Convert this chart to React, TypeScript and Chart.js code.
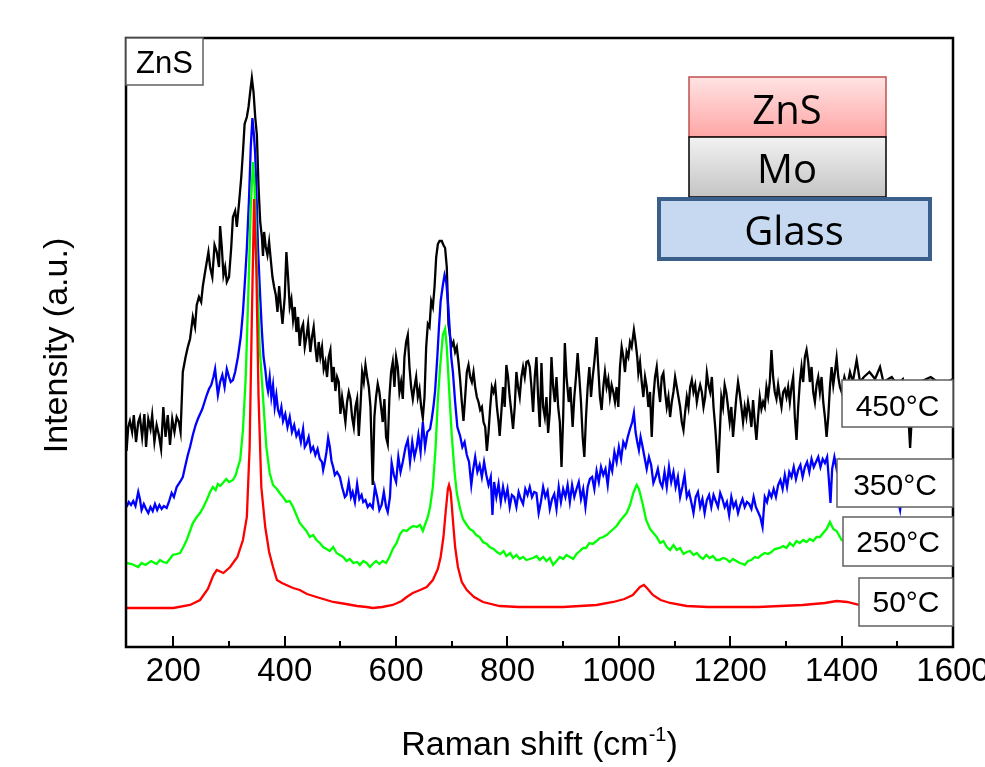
import { useEffect, useRef } from 'react';
import { Chart, registerables } from 'chart.js';

Chart.register(...registerables);

// ---------- data (Raman shift in cm-1, intensity in arbitrary units) ----------
const X_50 = [115,150,200,230,248,262,272,278,290,302,315,325,332,337,341,345,349,353,358,365,372,379,386,395,403,415,427,440,457,475,487,510,530,547,558,575,594,610,619,630,643,655,666,675,680,685,689,693,695,698,702,706,711,718,727,740,756,786,820,900,960,990,1010,1025,1038,1045,1052,1061,1075,1092,1122,1160,1250,1330,1370,1391,1410,1433,1470,1600];
const Y_50 = [39,39,39,42,47,58,72,77,74,80,90,107,130,200,330,448,380,250,160,120,95,80,67,64,62,59,57,53,50,47,45,43,41,40,39,40,42,46,50,54,57,60,67,78,90,110,135,158,162,155,127,100,80,65,57,50,45,41,40,40,42,45,48,52,60,62,58,52,47,44,41,40,40,42,44,46,45,42,40,40];

const X_250 = [116,125,137,143,150,160,170,176,182,188,195,199,206,212,218,224,230,235,242,248,254,260,266,271,276,280,284,289,295,300,307,312,316,320,325,330,335,339,343,346,350,355,361,367,373,379,386,391,397,403,409,415,421,427,433,439,445,451,457,463,469,475,481,487,493,499,505,511,517,523,530,535,541,547,553,558,564,570,576,582,588,594,601,607,613,619,625,631,637,643,648,653,657,661,666,671,675,679,684,688,691,695,700,705,709,715,720,727,732,738,744,750,756,763,768,775,781,787,793,798,805,810,816,822,828,834,840,846,852,858,864,870,876,882,888,894,900,906,912,918,924,930,936,941,947,953,960,966,972,978,984,990,996,1002,1008,1014,1020,1026,1032,1036,1042,1049,1056,1062,1068,1074,1080,1086,1092,1098,1104,1110,1116,1122,1128,1134,1140,1146,1151,1157,1163,1169,1175,1181,1187,1193,1199,1205,1211,1217,1223,1226,1232,1238,1244,1250,1256,1262,1268,1274,1280,1289,1295,1301,1307,1313,1319,1325,1331,1337,1343,1349,1355,1361,1367,1373,1379,1385,1391,1397,1400,1420,1450,1480,1510,1540,1570,1600];
const Y_250 = [84,83,80,84,82,86,83,87,85,84,89,92,93,94,100,107,116,124,130,134,140,147,155,160,157,163,161,164,168,165,167,172,180,187,217,270,360,440,485,460,380,300,250,200,174,162,158,154,150,145,146,140,132,124,120,116,110,112,107,104,100,98,96,100,94,92,90,86,88,84,85,82,86,84,80,83,86,83,86,84,90,98,104,113,117,116,119,121,120,122,116,124,130,140,160,200,248,280,312,318,300,260,211,175,154,138,128,122,118,116,112,110,105,103,100,98,95,93,96,91,94,89,92,88,90,87,88,89,91,87,90,86,89,82,86,90,88,92,90,88,93,96,99,99,104,103,106,109,110,112,115,118,121,126,130,134,142,154,162,158,145,127,118,114,110,104,106,100,97,102,97,99,93,95,96,92,94,90,88,92,89,91,87,87,89,88,85,88,86,84,83,82,86,87,90,89,92,94,93,95,98,99,101,99,104,101,106,104,107,105,108,106,110,110,114,118,125,118,116,110,107,104,100,96,94,92,90,87];

const X_350 = [116,120,124,128,132,137,140,143,147,151,155,159,163,167,171,175,179,183,188,192,197,201,206,212,217,221,226,230,235,240,244,248,252,256,260,264,268,272,275,278,280,284,288,292,296,300,303,307,311,316,321,325,329,332,336,339,342,345,347,350,352,356,359,362,365,368,370,373,376,379,382,385,388,391,394,397,401,405,409,413,417,421,425,429,433,436,439,443,447,451,455,459,463,467,469,472,475,478,481,484,487,490,494,499,503,508,511,515,519,522,526,530,534,538,541,545,549,553,558,562,566,570,574,578,582,585,589,592,596,600,604,608,612,617,621,625,629,633,637,640,644,648,652,656,661,664,667,670,674,677,680,684,687,690,693,696,699,702,706,710,715,719,723,727,731,735,738,742,746,750,754,758,762,766,770,773,776,780,784,788,792,796,800,804,808,812,816,820,824,828,832,836,840,844,848,852,856,860,864,868,872,876,880,884,888,892,896,900,904,908,912,916,920,924,928,932,936,940,944,948,952,956,960,964,968,972,976,980,984,988,992,996,1000,1004,1008,1012,1016,1020,1024,1027,1030,1033,1036,1039,1042,1046,1050,1054,1058,1062,1066,1070,1074,1078,1082,1086,1090,1094,1098,1102,1106,1110,1114,1118,1122,1126,1130,1134,1138,1142,1146,1150,1154,1158,1162,1166,1170,1174,1178,1182,1186,1190,1194,1198,1202,1206,1210,1214,1218,1222,1226,1230,1234,1238,1242,1246,1250,1254,1258,1262,1266,1270,1274,1278,1282,1286,1290,1294,1298,1302,1306,1310,1314,1318,1322,1326,1330,1334,1338,1342,1346,1350,1354,1358,1362,1366,1370,1374,1377,1380,1383,1387,1391,1395,1400,1430,1460,1490,1500,1505,1510,1540,1570,1600];
const Y_350 = [140,145,142,146,141,155,148,137,143,138,134,140,136,143,137,142,138,141,139,145,154,150,160,165,170,180,192,200,212,222,228,233,238,245,252,258,262,270,278,262,252,265,272,260,278,270,265,267,275,290,310,335,370,399,450,500,529,510,493,440,399,350,316,290,278,262,256,270,250,262,240,252,237,232,240,226,233,220,230,215,222,211,216,205,218,200,203,210,196,200,192,198,188,185,177,185,195,209,200,186,180,172,175,170,160,150,152,165,150,155,145,163,148,152,145,147,140,143,139,160,150,137,142,155,140,135,150,184,172,165,190,175,185,200,207,185,205,190,200,212,195,225,200,215,218,228,240,256,290,320,346,362,372,365,346,320,290,275,245,220,211,200,205,192,185,162,176,190,175,182,170,185,172,162,170,132,165,150,163,145,160,148,158,140,152,150,140,155,148,143,158,152,160,150,155,154,134,145,160,150,156,138,148,153,138,160,145,158,150,162,145,162,150,158,165,148,158,140,160,168,170,158,176,165,180,172,178,162,184,176,195,185,200,188,205,200,210,218,225,234,215,205,197,210,202,190,178,190,182,164,170,178,165,160,175,160,180,165,175,160,170,150,160,172,150,155,145,134,150,155,140,148,134,147,152,140,152,146,140,154,148,140,145,132,150,140,145,134,142,148,140,145,143,138,150,140,135,130,120,150,145,155,150,158,150,162,167,158,172,160,175,170,180,168,177,182,170,180,185,175,188,180,185,190,180,188,184,190,168,144,178,190,178,185,170,168,165,160,150,137,160,158,160,160];

const X_450 = [116,119,122,126,129,133,137,140,144,148,151,155,159,162,166,170,174,178,182,186,190,194,198,202,206,210,213,217,222,226,230,235,239,242,246,250,253,257,260,263,266,270,274,278,282,284,287,290,293,296,300,304,307,311,314,318,322,325,328,332,335,338,341,344,347,350,353,356,359,361,363,366,369,372,375,378,381,384,387,390,393,396,400,403,406,409,412,415,418,421,424,427,430,433,436,439,442,446,449,452,455,458,461,464,467,470,473,476,479,482,485,488,491,494,497,500,503,506,509,512,515,518,521,524,527,530,533,536,539,542,545,548,551,554,558,561,564,567,570,573,576,579,582,585,588,591,594,597,600,603,606,609,612,615,618,621,624,627,630,633,636,639,642,645,648,651,654,657,660,663,666,669,672,675,678,682,685,688,691,694,697,700,703,706,709,712,715,718,721,724,727,730,733,736,739,742,745,748,751,754,757,760,763,766,769,772,775,778,781,784,786,789,792,795,798,801,804,807,810,813,816,819,822,825,828,831,834,837,840,843,846,849,852,855,858,861,864,867,870,873,876,879,882,885,888,891,894,897,900,903,906,910,913,917,920,923,926,929,932,935,938,941,944,947,950,953,956,960,963,966,969,972,975,978,981,984,987,990,993,996,999,1002,1005,1008,1011,1014,1017,1020,1023,1027,1030,1033,1035,1038,1041,1044,1047,1050,1053,1056,1059,1062,1065,1068,1071,1074,1077,1080,1083,1086,1089,1092,1095,1098,1101,1104,1107,1110,1113,1116,1119,1122,1125,1128,1131,1134,1137,1140,1143,1146,1149,1152,1155,1158,1161,1164,1167,1170,1173,1176,1178,1181,1184,1187,1190,1193,1196,1199,1202,1205,1208,1211,1214,1217,1220,1223,1226,1229,1232,1235,1238,1241,1244,1247,1250,1253,1256,1259,1262,1265,1268,1271,1274,1277,1280,1283,1286,1289,1292,1295,1298,1301,1304,1307,1310,1313,1316,1319,1322,1325,1328,1331,1334,1337,1340,1343,1346,1349,1352,1355,1358,1361,1364,1367,1370,1373,1376,1379,1382,1385,1388,1391,1394,1397,1400,1405,1410,1415,1420,1427,1433,1440,1450,1460,1469,1475,1490,1500,1510,1518,1523,1528,1540,1560,1580,1600];
const Y_450 = [196,220,226,215,232,205,225,230,210,233,200,228,218,232,205,222,212,198,240,210,232,202,228,215,230,225,215,275,290,300,308,330,320,342,350,345,361,375,385,395,380,370,402,395,380,421,400,372,380,365,370,400,430,436,420,444,470,495,523,530,540,555,569,555,530,512,460,425,410,391,415,400,392,405,387,370,360,352,335,361,340,323,350,395,370,340,348,327,340,315,330,301,318,323,300,310,323,295,310,320,300,285,305,290,300,278,285,270,290,297,265,280,256,270,265,233,250,238,225,245,255,248,230,220,240,248,211,240,275,265,282,270,260,240,162,230,250,263,255,240,225,248,210,203,250,275,285,260,290,280,255,265,248,290,305,312,280,260,248,260,270,250,258,240,229,250,300,323,320,346,340,360,390,403,406,406,402,399,380,323,310,301,305,295,300,285,267,245,226,250,275,282,270,265,275,260,250,245,237,240,225,220,196,215,240,260,255,262,240,225,211,235,260,240,282,270,250,235,218,240,275,260,250,270,280,270,285,286,280,260,235,270,290,250,220,284,240,230,250,214,235,290,260,245,270,240,225,180,230,304,270,245,260,220,250,270,294,270,245,210,190,230,260,280,250,270,285,310,280,250,237,260,275,260,268,250,262,255,245,260,240,280,300,290,275,295,290,305,300,317,305,290,274,285,265,250,270,260,240,255,210,250,270,280,260,245,270,274,255,240,250,230,245,255,270,260,250,240,225,217,235,250,240,260,267,255,262,245,255,262,255,240,250,274,262,255,270,240,220,195,174,210,250,240,262,254,240,225,240,210,230,250,265,254,240,225,240,230,245,235,220,247,225,207,230,250,238,245,240,260,250,265,297,270,255,248,262,250,240,255,258,250,260,245,260,270,230,207,240,265,280,265,290,297,285,265,280,255,245,262,270,255,270,245,230,210,230,260,280,262,275,289,270,260,255,270,260,275,265,287,265,270,275,268,280,265,270,262,268,250,199,250,265,270,262,268];

const X_TICKS = [200, 400, 600, 800, 1000, 1200, 1400, 1600];
const X_MINOR = [300, 500, 700, 900, 1100, 1300, 1500];
const X_RANGE = [115, 1600];
const Y_RANGE = [0, 609];

const SERIES = [
  { name: '50°C', xs: X_50, ys: Y_50, color: '#ff0000' },
  { name: '250°C', xs: X_250, ys: Y_250, color: '#00ff00' },
  { name: '350°C', xs: X_350, ys: Y_350, color: '#0000ff' },
  { name: '450°C', xs: X_450, ys: Y_450, color: '#000000' },
];

const FONT = "'Liberation Sans', Arial, sans-serif";

const overlay = {
  id: 'overlay',
  afterDatasetsDraw(chart: any) {
    const { ctx, chartArea: a, scales } = chart;
    const xs = scales.x;
    ctx.save();
    // frame
    ctx.strokeStyle = '#000';
    ctx.lineWidth = 2.5;
    ctx.strokeRect(a.left, a.top, a.right - a.left, a.bottom - a.top);
    // inward ticks
    ctx.lineWidth = 2;
    X_TICKS.forEach((v) => {
      const px = Math.round(xs.getPixelForValue(v));
      ctx.beginPath();
      ctx.moveTo(px, a.bottom);
      ctx.lineTo(px, a.bottom - 11);
      ctx.stroke();
    });
    X_MINOR.forEach((v) => {
      const px = Math.round(xs.getPixelForValue(v));
      ctx.beginPath();
      ctx.moveTo(px, a.bottom);
      ctx.lineTo(px, a.bottom - 6);
      ctx.stroke();
    });

    // axis titles
    ctx.fillStyle = '#000';
    ctx.font = `34px ${FONT}`;
    ctx.textBaseline = 'alphabetic';
    const t1 = 'Raman shift (cm';
    const sup = '-1';
    const t2 = ')';
    const w1 = ctx.measureText(t1).width;
    const w3 = ctx.measureText(t2).width;
    ctx.font = `20px ${FONT}`;
    const w2 = ctx.measureText(sup).width;
    const total = w1 + w2 + w3;
    const cx = (a.left + a.right) / 2;
    const x0 = cx - total / 2;
    const base = 755;
    ctx.textAlign = 'left';
    ctx.font = `34px ${FONT}`;
    ctx.fillText(t1, x0, base);
    ctx.font = `20px ${FONT}`;
    ctx.fillText(sup, x0 + w1, base - 14);
    ctx.font = `34px ${FONT}`;
    ctx.fillText(t2, x0 + w1 + w2, base);

    ctx.save();
    ctx.translate(67, (a.top + a.bottom) / 2 + 3);
    ctx.rotate(-Math.PI / 2);
    ctx.textAlign = 'center';
    ctx.fillText('Intensity (a.u.)', 0, 0);
    ctx.restore();

    // label boxes
    const box = (x1: number, y1: number, x2: number, y2: number, text: string, baseY: number, size: number) => {
      ctx.fillStyle = '#fff';
      ctx.fillRect(x1, y1, x2 - x1, y2 - y1);
      ctx.strokeStyle = '#606060';
      ctx.lineWidth = 1.5;
      ctx.strokeRect(x1, y1, x2 - x1, y2 - y1);
      ctx.fillStyle = '#000';
      ctx.font = `${size}px ${FONT}`;
      ctx.textAlign = 'center';
      ctx.textBaseline = 'alphabetic';
      ctx.fillText(text, (x1 + x2) / 2, baseY);
    };
    box(a.left, a.top, 203, 85, 'ZnS', 73, 31);
    box(842, 380, a.right, 427, '450°C', 416, 30);
    box(837, 459, a.right, 507, '350°C', 495, 30);
    box(843, 517, a.right, 566, '250°C', 552, 30);
    box(859, 578, a.right, 626, '50°C', 612, 30);

    // layer stack diagram
    const lf = "'Open Sans', 'Liberation Sans', sans-serif";
    let g = ctx.createLinearGradient(0, 77, 0, 137);
    g.addColorStop(0, '#ffe3e3');
    g.addColorStop(1, '#ffa6a6');
    ctx.fillStyle = g;
    ctx.fillRect(689, 77, 197, 60);
    ctx.strokeStyle = '#c0504d';
    ctx.lineWidth = 1.5;
    ctx.strokeRect(689, 77, 197, 60);
    g = ctx.createLinearGradient(0, 137, 0, 197);
    g.addColorStop(0, '#f2f2f2');
    g.addColorStop(1, '#c4c4c4');
    ctx.fillStyle = g;
    ctx.fillRect(689, 137, 197, 60);
    ctx.strokeStyle = '#000';
    ctx.strokeRect(689, 137, 197, 60);
    ctx.fillStyle = '#c6d9f1';
    ctx.fillRect(659, 199, 271, 60);
    ctx.strokeStyle = '#3a5f8b';
    ctx.lineWidth = 4;
    ctx.strokeRect(659, 199, 271, 60);
    ctx.fillStyle = '#000';
    ctx.font = `40px ${lf}`;
    ctx.textAlign = 'center';
    ctx.fillText('ZnS', 787, 124);
    ctx.fillText('Mo', 787, 183);
    ctx.fillText('Glass', 794, 245);
    ctx.restore();
  },
};

export default function App() {
  const ref = useRef<HTMLCanvasElement | null>(null);
  useEffect(() => {
    document.body.style.margin = '0';
    const canvas = ref.current!;
    const chart = new Chart(canvas, {
      type: 'line',
      data: {
        datasets: SERIES.map((s) => ({
          label: s.name,
          data: s.xs.map((x, i) => ({ x, y: s.ys[i] })),
          borderColor: s.color,
          borderWidth: 2.3,
          pointRadius: 0,
          tension: 0,
          fill: false,
        })),
      },
      options: {
        responsive: false,
        animation: false,
        layout: { padding: { left: 126, top: 38, right: 32, bottom: 0 } },
        plugins: { legend: { display: false }, tooltip: { enabled: false } },
        scales: {
          x: {
            type: 'linear',
            min: X_RANGE[0],
            max: X_RANGE[1],
            grid: { display: false, drawTicks: false },
            border: { display: false },
            ticks: {
              font: { size: 33, family: FONT },
              color: '#000',
              padding: 5,
              maxRotation: 0,
              autoSkip: false,
              callback: (v: any) => String(v),
            },
            afterBuildTicks: (axis: any) => {
              axis.ticks = X_TICKS.map((v) => ({ value: v }));
            },
            afterFit: (axis: any) => {
              axis.height = 120;
              axis.paddingLeft = 0;
              axis.paddingRight = 0;
            },
          },
          y: { display: false, min: Y_RANGE[0], max: Y_RANGE[1] },
        },
      },
      plugins: [overlay],
    });
    return () => chart.destroy();
  }, []);
  return (
    <div style={{ position: 'absolute', left: 0, top: 0, width: 985, height: 767, background: '#fff' }}>
      <canvas ref={ref} width={985} height={767} />
    </div>
  );
}
